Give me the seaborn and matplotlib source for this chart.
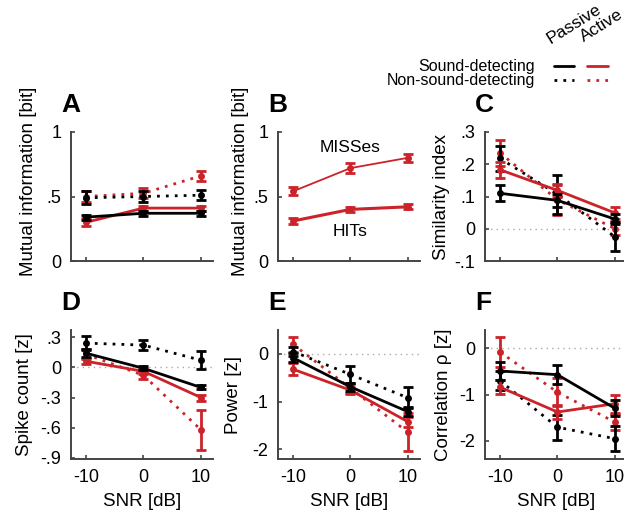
import matplotlib
matplotlib.use("Agg")
import matplotlib.pyplot as plt
from matplotlib.lines import Line2D
import seaborn as sns

sns.set_theme(style="ticks")
plt.rcParams['font.family'] = ['Liberation Sans', 'DejaVu Sans']
plt.rcParams['text.color'] = 'black'
plt.rcParams['axes.labelcolor'] = 'black'
plt.rcParams['xtick.labelcolor'] = 'black'
plt.rcParams['ytick.labelcolor'] = 'black'

RED = '#cc2229'
BLACK = '#000000'

snr = [-10, 0, 10]

# A: mutual information, sound-detecting / non-sound-detecting
mi_sd_passive = [0.34, 0.37, 0.37]
mi_sd_passive_err = [0.02, 0.02, 0.02]
mi_sd_active = [0.30, 0.41, 0.41]
mi_sd_active_err = [0.03, 0.02, 0.02]
mi_nsd_passive = [0.49, 0.50, 0.51]
mi_nsd_passive_err = [0.05, 0.04, 0.04]
mi_nsd_active = [0.50, 0.525, 0.66]
mi_nsd_active_err = [0.04, 0.04, 0.04]

# B: mutual information, HITs vs MISSes
mi_hits = [0.31, 0.40, 0.42]
mi_hits_err = [0.02, 0.02, 0.02]
mi_misses = [0.54, 0.72, 0.80]
mi_misses_err = [0.03, 0.04, 0.03]

# C: similarity index
sim_sd_passive = [0.11, 0.088, 0.03]
sim_sd_passive_err = [0.025, 0.02, 0.015]
sim_sd_active = [0.183, 0.119, 0.049]
sim_sd_active_err = [0.025, 0.02, 0.018]
sim_nsd_passive = [0.218, 0.107, -0.025]
sim_nsd_passive_err = [0.04, 0.06, 0.045]
sim_nsd_active = [0.235, 0.09, 0.0]
sim_nsd_active_err = [0.04, 0.047, 0.02]

# D: spike count
spk_sd_passive = [0.14, -0.01, -0.20]
spk_sd_passive_err = [0.04, 0.02, 0.02]
spk_sd_active = [0.06, -0.04, -0.30]
spk_sd_active_err = [0.03, 0.03, 0.03]
spk_nsd_passive = [0.24, 0.22, 0.07]
spk_nsd_passive_err = [0.07, 0.05, 0.09]
spk_nsd_active = [0.13, -0.08, -0.62]
spk_nsd_active_err = [0.05, 0.04, 0.20]

# E: power
pow_sd_passive = [-0.08, -0.69, -1.21]
pow_sd_passive_err = [0.10, 0.08, 0.10]
pow_sd_active = [-0.32, -0.76, -1.42]
pow_sd_active_err = [0.12, 0.07, 0.10]
pow_nsd_passive = [0.05, -0.43, -0.92]
pow_nsd_passive_err = [0.10, 0.17, 0.22]
pow_nsd_active = [0.20, -0.72, -1.64]
pow_nsd_active_err = [0.15, 0.10, 0.40]

# F: correlation
cor_sd_passive = [-0.49, -0.57, -1.30]
cor_sd_passive_err = [0.20, 0.20, 0.17]
cor_sd_active = [-0.84, -1.38, -1.20]
cor_sd_active_err = [0.15, 0.15, 0.20]
cor_nsd_passive = [-0.70, -1.71, -1.96]
cor_nsd_passive_err = [0.20, 0.27, 0.27]
cor_nsd_active = [-0.08, -0.95, -1.60]
cor_nsd_active_err = [0.33, 0.30, 0.18]

DOT = (0, (1, 2.2))


def draw_series(ax, y, err, color, ls='-', lw=2.0):
    sns.lineplot(x=snr, y=y, color=color, linestyle=ls, linewidth=lw,
                 marker='o', markersize=5, markeredgewidth=0, ax=ax)
    ax.errorbar(snr, y, yerr=err, fmt='none', ecolor=color,
                elinewidth=2.0, capsize=3.5, capthick=2.0)


def style_axes(ax, letter, ylabel, yticks, yticklabels, ylim, label_x, label_y=0.5,
               zero_line=False, xlabel=True):
    ax.set_xlim(-12.6, 12.1)
    ax.set_ylim(*ylim)
    ax.set_xticks(snr)
    ax.set_yticks(yticks)
    ax.set_yticklabels(yticklabels)
    if xlabel:
        ax.set_xticklabels(['-10', '0', '10'])
        ax.set_xlabel('SNR [dB]', fontsize=13.5, labelpad=5)
    else:
        ax.set_xticklabels([])
    ax.set_ylabel(ylabel, fontsize=13.5)
    ax.yaxis.set_label_coords(label_x, label_y)
    ax.tick_params(direction='in', length=3, width=1.2, labelsize=13, pad=7,
                   color='#444444')
    for side in ['top', 'right']:
        ax.spines[side].set_visible(False)
    for side in ['left', 'bottom']:
        ax.spines[side].set_color('#444444')
        ax.spines[side].set_linewidth(1.4)
    if zero_line:
        ax.axhline(0, color='#aaaaaa', linestyle=(0, (1, 3)), linewidth=1.0, zorder=0)
    ax.text(-0.07, 1.12, letter, transform=ax.transAxes, fontsize=19,
            fontweight='bold', ha='left', va='bottom')


fig = plt.figure(figsize=(6.24, 5.16), dpi=100)
W, H = 624, 516
lefts = [71, 278, 485]
width = 142 / W
height = 129 / H
top_bottom = (H - 261) / H
bot_bottom = (H - 459) / H

axA = fig.add_axes([lefts[0] / W, top_bottom, width, height])
axB = fig.add_axes([lefts[1] / W, top_bottom, width, height])
axC = fig.add_axes([lefts[2] / W, top_bottom, width, height])
axD = fig.add_axes([lefts[0] / W, bot_bottom, width, height])
axE = fig.add_axes([lefts[1] / W, bot_bottom, width, height])
axF = fig.add_axes([lefts[2] / W, bot_bottom, width, height])

# A
draw_series(axA, mi_nsd_active, mi_nsd_active_err, RED, DOT)
draw_series(axA, mi_nsd_passive, mi_nsd_passive_err, BLACK, DOT)
draw_series(axA, mi_sd_active, mi_sd_active_err, RED)
draw_series(axA, mi_sd_passive, mi_sd_passive_err, BLACK)
style_axes(axA, 'A', 'Mutual information [bit]', [0, 0.5, 1], ['0', '.5', '1'],
           (0, 1), -0.24, 0.62, xlabel=False)

# B
draw_series(axB, mi_misses, mi_misses_err, RED, lw=1.3)
draw_series(axB, mi_hits, mi_hits_err, RED, lw=2.2)
style_axes(axB, 'B', 'Mutual information [bit]', [0, 0.5, 1], ['0', '.5', '1'],
           (0, 1), -0.205, 0.62, xlabel=False)
axB.text(0, 0.88, 'MISSes', fontsize=12.5, ha='center', va='center')
axB.text(0, 0.23, 'HITs', fontsize=12.5, ha='center', va='center')

# C
draw_series(axC, sim_nsd_active, sim_nsd_active_err, RED, DOT)
draw_series(axC, sim_nsd_passive, sim_nsd_passive_err, BLACK, DOT)
draw_series(axC, sim_sd_active, sim_sd_active_err, RED)
draw_series(axC, sim_sd_passive, sim_sd_passive_err, BLACK)
style_axes(axC, 'C', 'Similarity index', [-0.1, 0, 0.1, 0.2, 0.3],
           ['-.1', '0', '.1', '.2', '.3'], (-0.1, 0.3), -0.25, 0.5,
           zero_line=True, xlabel=False)

# D
draw_series(axD, spk_nsd_active, spk_nsd_active_err, RED, DOT)
draw_series(axD, spk_nsd_passive, spk_nsd_passive_err, BLACK, DOT)
draw_series(axD, spk_sd_active, spk_sd_active_err, RED)
draw_series(axD, spk_sd_passive, spk_sd_passive_err, BLACK)
style_axes(axD, 'D', 'Spike count [z]', [-0.9, -0.6, -0.3, 0, 0.3],
           ['-.9', '-.6', '-.3', '0', '.3'], (-0.91, 0.37), -0.27, 0.5,
           zero_line=True)

# E
draw_series(axE, pow_nsd_active, pow_nsd_active_err, RED, DOT)
draw_series(axE, pow_nsd_passive, pow_nsd_passive_err, BLACK, DOT)
draw_series(axE, pow_sd_active, pow_sd_active_err, RED)
draw_series(axE, pow_sd_passive, pow_sd_passive_err, BLACK)
style_axes(axE, 'E', 'Power [z]', [-2, -1, 0], ['-2', '-1', '0'],
           (-2.2, 0.5), -0.25, 0.5, zero_line=True)

# F
draw_series(axF, cor_nsd_active, cor_nsd_active_err, RED, DOT)
draw_series(axF, cor_nsd_passive, cor_nsd_passive_err, BLACK, DOT)
draw_series(axF, cor_sd_active, cor_sd_active_err, RED)
draw_series(axF, cor_sd_passive, cor_sd_passive_err, BLACK)
style_axes(axF, 'F', 'Correlation ρ [z]', [-2, -1, 0], ['-2', '-1', '0'],
           (-2.4, 0.4), -0.23, 0.5, zero_line=True)

# legend
fig.text(535 / W, 1 - 66 / H, 'Sound-detecting', fontsize=11.5, ha='right', va='center')
fig.text(535 / W, 1 - 80 / H, 'Non-sound-detecting', fontsize=11.5, ha='right', va='center')
fig.text(552 / W, 1 - 47 / H, 'Passive', fontsize=12.5, rotation=32,
         ha='left', va='bottom', rotation_mode='anchor')
fig.text(586 / W, 1 - 45 / H, 'Active', fontsize=12.5, rotation=32,
         ha='left', va='bottom', rotation_mode='anchor')
for x0, x1, color in [(554, 574, BLACK), (587, 608, RED)]:
    fig.add_artist(Line2D([x0 / W, x1 / W], [1 - 66 / H, 1 - 66 / H],
                          color=color, linewidth=2, transform=fig.transFigure))
    fig.add_artist(Line2D([x0 / W, x1 / W], [1 - 80 / H, 1 - 80 / H],
                          color=color, linewidth=2, linestyle=DOT,
                          transform=fig.transFigure))

fig.savefig('out.png', dpi=100)
plt.close(fig)
